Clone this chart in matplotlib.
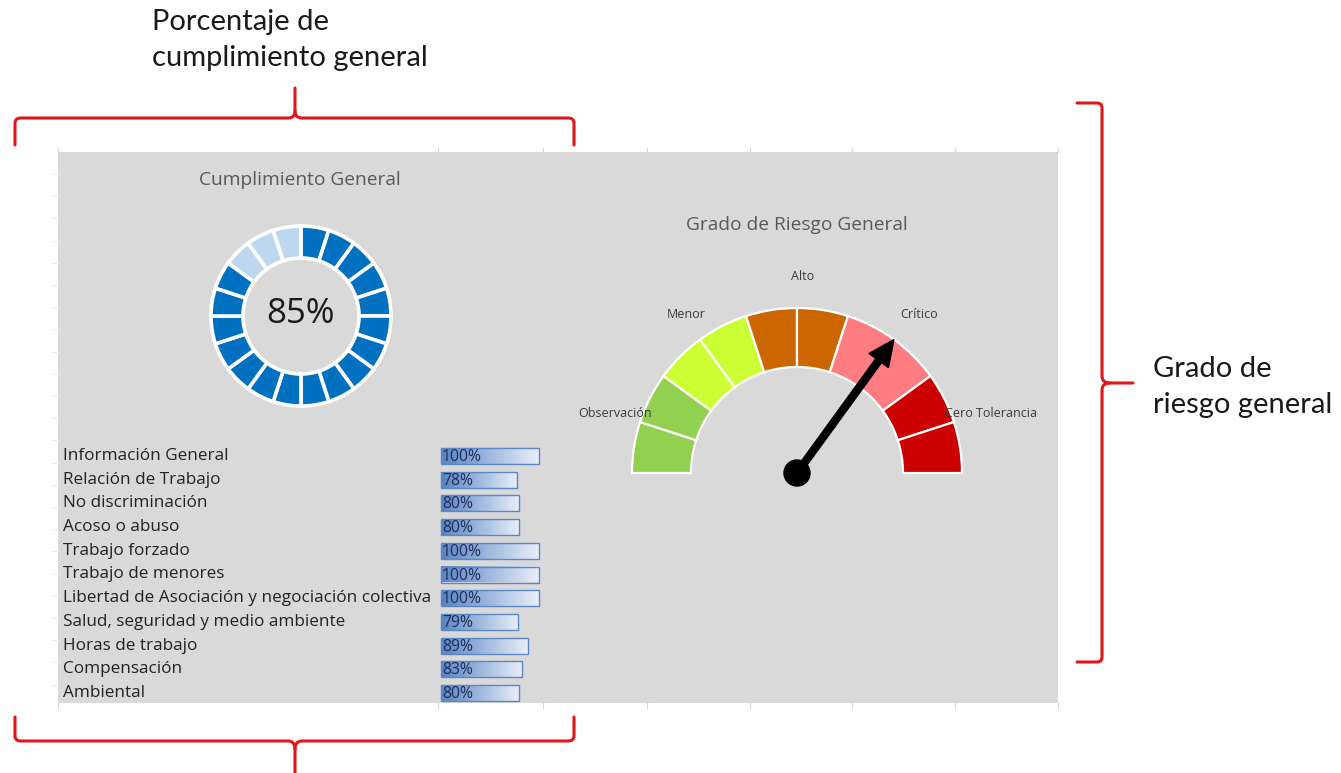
import numpy as np
import matplotlib
matplotlib.use("Agg")
import matplotlib.pyplot as plt
from matplotlib.patches import Wedge, Rectangle, Circle, FancyArrow, PathPatch
from matplotlib.path import Path
from matplotlib.colors import LinearSegmentedColormap

# ---------------- data ----------------
categories = [
    "Información General",
    "Relación de Trabajo",
    "No discriminación",
    "Acoso o abuso",
    "Trabajo forzado",
    "Trabajo de menores",
    "Libertad de Asociación y negociación colectiva",
    "Salud, seguridad y medio ambiente",
    "Horas de trabajo",
    "Compensación",
    "Ambiental",
]
values = [100, 78, 80, 80, 100, 100, 100, 79, 89, 83, 80]

overall_pct = 85
donut_segments = 20

gauge_levels = ["Observación", "Menor", "Alto", "Crítico", "Cero Tolerancia"]
gauge_colors = ["#92D050", "#CCFF33", "#CC6600", "#FF7C80", "#CC0000"]
segments_per_level = 2
needle_value = 70  # on a 0-100 scale

title_left = "Cumplimiento General"
title_right = "Grado de Riesgo General"
note_top = "Porcentaje de\ncumplimiento general"
note_right = "Grado de\nriesgo general"

# ---------------- figure ----------------
plt.rcParams['font.family'] = ['Open Sans', 'DejaVu Sans']
W, H = 1341, 773
fig = plt.figure(figsize=(W / 100, H / 100), dpi=100)
ax = fig.add_axes([0, 0, 1, 1])
ax.set_xlim(0, W)
ax.set_ylim(H, 0)
ax.axis('off')

# panel
px0, px1, py0, py1 = 58, 1058, 152, 703
ax.add_patch(Rectangle((px0, py0), px1 - px0, py1 - py0, facecolor="#D9D9D9",
                       edgecolor="none", zorder=0))
grid_x = [58, 438, 543, 647, 750, 852, 955, 1058]
for gx in grid_x:
    ax.plot([gx, gx], [py0 - 4, py0], color="#d6d6d6", lw=0.8, zorder=0)
    ax.plot([gx, gx], [py1, py1 + 5], color="#d6d6d6", lw=0.8, zorder=0)
for gy in np.arange(py0 + 22, py1, 22.2):
    ax.plot([px0 - 6, px0], [gy, gy], color="#efefef", lw=0.8, zorder=0)


def vis_wedge(c, r, phi_a, phi_b, width, **kw):
    # visual (counter-clockwise, y up) angles -> data angles with inverted y
    return Wedge(c, r, -phi_b, -phi_a, width=width, **kw)


# ---------------- donut ----------------
dc = (301, 316)
r_out, r_in = 90, 58
n_dark = int(round(overall_pct / 100 * donut_segments))
step = 360 / donut_segments
for i in range(donut_segments):
    a2 = 90 - step * i
    a1 = a2 - step
    col = "#0070C0" if i < n_dark else "#BDD7EE"
    ax.add_patch(vis_wedge(dc, r_out, a1, a2, r_out - r_in, facecolor=col,
                           edgecolor="white", lw=2.6, zorder=2))
ax.text(dc[0], dc[1] - 2, f"{overall_pct}%", fontsize=25, color="#1a1a1a",
        ha="center", va="center", zorder=3)
ax.text(300, 180, title_left, fontsize=13.8, color="#595959", ha="center",
        va="center")

# ---------------- bars ----------------
row_y0, row_step = 456, 23.7
bar_x0, bar_full = 441, 98
bar_h = 16
cmap = LinearSegmentedColormap.from_list("db", ["#5783c3", "#e9eff8"])
grad = np.linspace(0, 1, 256).reshape(1, -1)
for k, (cat, v) in enumerate(zip(categories, values)):
    y = row_y0 + k * row_step
    ax.text(63, y, cat, fontsize=12.3, color="#222222", ha="left", va="center")
    w = bar_full * v / 100
    ax.imshow(grad, cmap=cmap, extent=(bar_x0, bar_x0 + w, y + bar_h / 2, y - bar_h / 2),
              aspect="auto", zorder=2, interpolation="bilinear")
    ax.add_patch(Rectangle((bar_x0, y - bar_h / 2), w, bar_h, facecolor="none",
                           edgecolor="#5b87c6", lw=1.0, zorder=3))
    ax.text(bar_x0 + 1, y + 1, f"{v}%", fontsize=11.3, color="#1f2d5a",
            ha="left", va="center", zorder=4)

# ---------------- gauge ----------------
gc = (797, 473)
g_out, g_in = 165, 106
n_seg = len(gauge_levels) * segments_per_level
gstep = 180 / n_seg
for j in range(n_seg):
    a2 = 180 - gstep * j
    a1 = a2 - gstep
    ax.add_patch(vis_wedge(gc, g_out, a1, a2, g_out - g_in,
                           facecolor=gauge_colors[j // segments_per_level],
                           edgecolor="white", lw=1.6, zorder=2))
lvl_step = 180 / len(gauge_levels)
for k, lab in enumerate(gauge_levels):
    phi = np.deg2rad(180 - lvl_step * (k + 0.5))
    lr = 198
    ax.text(gc[0] + lr * np.cos(phi) + 6, gc[1] - lr * np.sin(phi) + 2, lab,
            fontsize=9, color="#3a3a3a", ha="center", va="center", zorder=3)

phi = np.deg2rad(180 - 1.8 * needle_value)
dx, dy = g_out * np.cos(phi), -g_out * np.sin(phi)
ax.add_patch(FancyArrow(gc[0], gc[1], dx, dy, width=7, head_width=24,
                        head_length=26, length_includes_head=True,
                        color="black", zorder=4))
ax.add_patch(Circle(gc, 13, color="black", zorder=5))
ax.text(797, 225, title_right, fontsize=13.8, color="#595959", ha="center",
        va="center")

# ---------------- red brackets ----------------
red = "#E3151B"


def bracket(pts_codes):
    verts = [p for p, _ in pts_codes]
    codes = [c for _, c in pts_codes]
    ax.add_patch(PathPatch(Path(verts, codes), facecolor="none", edgecolor=red,
                           lw=2.2, zorder=5, capstyle="round", joinstyle="round"))


M, L, C = Path.MOVETO, Path.LINETO, Path.CURVE3
# top bracket
yt = 118
bracket([((15, 145), M), ((15, 123), L), ((15, yt), C), ((21, yt), C),
         ((288, yt), L), ((295, yt), C), ((295, 111), C), ((295, 88), L)])
bracket([((574, 145), M), ((574, 123), L), ((574, yt), C), ((568, yt), C),
         ((302, yt), L), ((295, yt), C), ((295, 111), C)])
# bottom bracket
yb = 741
bracket([((15, 717), M), ((15, 736), L), ((15, yb), C), ((21, yb), C),
         ((288, yb), L), ((295, yb), C), ((295, 749), C), ((295, 773), L)])
bracket([((574, 717), M), ((574, 736), L), ((574, yb), C), ((568, yb), C),
         ((302, yb), L), ((295, yb), C), ((295, 749), C)])
# right bracket
xr = 1102
bracket([((1077, 103), M), ((1097, 103), L), ((xr, 103), C), ((xr, 108), C),
         ((xr, 376), L), ((xr, 383), C), ((1110, 383), C), ((1133, 383), L)])
bracket([((1077, 662), M), ((1097, 662), L), ((xr, 662), C), ((xr, 657), C),
         ((xr, 390), L), ((xr, 383), C), ((1110, 383), C)])

ax.text(152, 40, note_top, fontsize=21, color="#1a1a1a", ha="left",
        va="center", linespacing=1.45, family=['Lato', 'DejaVu Sans'])
ax.text(1153, 387, note_right, fontsize=21, color="#1a1a1a", ha="left",
        va="center", linespacing=1.45, family=['Lato', 'DejaVu Sans'])

fig.savefig("out.png", dpi=100)
